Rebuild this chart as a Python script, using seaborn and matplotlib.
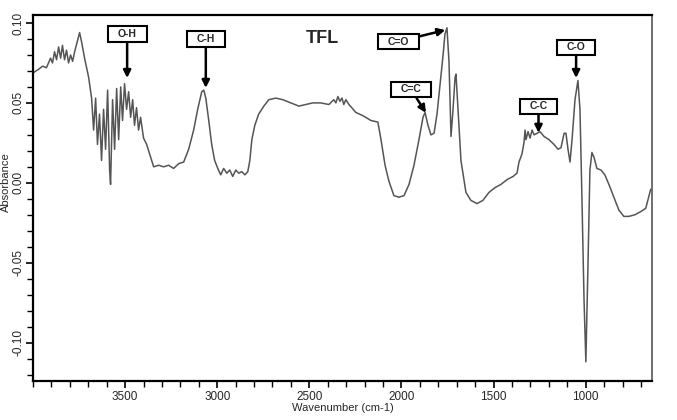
import numpy as np
import pandas as pd
import matplotlib
matplotlib.use("Agg")
import matplotlib.pyplot as plt
from matplotlib.path import Path
from matplotlib.ticker import MultipleLocator, FixedLocator, FixedFormatter
import seaborn as sns

# ---- data ----
wavenumber = [3997, 3970, 3948, 3927, 3905, 3894, 3883, 3872, 3861, 3850, 3840, 3829, 3818, 3807,
              3796, 3785, 3774, 3758, 3747, 3736, 3720, 3698, 3682, 3671, 3660, 3650, 3639, 3628,
              3617, 3606, 3595, 3584, 3579, 3568, 3557, 3546, 3535, 3524, 3514, 3503, 3492, 3481,
              3470, 3459, 3449, 3438, 3427, 3416, 3400, 3383, 3361, 3345, 3318, 3291, 3264, 3237,
              3209, 3182, 3155, 3128, 3106, 3084, 3073, 3062, 3046, 3030, 3014, 2997, 2981, 2965,
              2948, 2932, 2916, 2899, 2883, 2867, 2850, 2834, 2823, 2812, 2796, 2775, 2747, 2720,
              2682, 2644, 2600, 2557, 2519, 2481, 2438, 2394, 2367, 2356, 2345, 2334, 2323, 2313,
              2302, 2285, 2247, 2209, 2166, 2128, 2111, 2089, 2068, 2041, 2014, 1986, 1959, 1932,
              1905, 1883, 1872, 1856, 1840, 1823, 1807, 1791, 1774, 1764, 1753, 1742, 1731, 1720,
              1709, 1704, 1693, 1677, 1650, 1623, 1590, 1558, 1525, 1492, 1460, 1427, 1394, 1373,
              1362, 1346, 1335, 1329, 1324, 1313, 1302, 1291, 1280, 1264, 1248, 1226, 1199, 1172,
              1150, 1134, 1117, 1107, 1096, 1085, 1074, 1058, 1042, 1031, 1020, 1009, 999, 988,
              977, 966, 955, 939, 917, 896, 874, 847, 820, 793, 766, 733, 701, 674, 647]
absorbance = [0.069, 0.071, 0.073, 0.072, 0.078, 0.075, 0.082, 0.077, 0.085, 0.078, 0.086, 0.077,
              0.083, 0.075, 0.080, 0.076, 0.082, 0.089, 0.094, 0.088, 0.078, 0.066, 0.053, 0.033,
              0.053, 0.024, 0.043, 0.014, 0.046, 0.021, 0.058, 0.008, -0.001, 0.052, 0.021, 0.059,
              0.027, 0.060, 0.039, 0.062, 0.046, 0.057, 0.041, 0.052, 0.036, 0.047, 0.033, 0.041,
              0.028, 0.024, 0.016, 0.010, 0.011, 0.010, 0.011, 0.009, 0.012, 0.013, 0.021, 0.033,
              0.046, 0.057, 0.058, 0.053, 0.039, 0.024, 0.014, 0.009, 0.005, 0.009, 0.006, 0.008,
              0.004, 0.008, 0.006, 0.007, 0.005, 0.007, 0.014, 0.027, 0.036, 0.043, 0.048, 0.052,
              0.053, 0.052, 0.050, 0.048, 0.049, 0.050, 0.050, 0.049, 0.052, 0.050, 0.054, 0.051,
              0.053, 0.049, 0.052, 0.049, 0.044, 0.042, 0.039, 0.038, 0.027, 0.011, 0.001, -0.008,
              -0.009, -0.008, -0.001, 0.011, 0.027, 0.041, 0.044, 0.036, 0.030, 0.031, 0.043, 0.061,
              0.080, 0.093, 0.097, 0.076, 0.029, 0.046, 0.066, 0.068, 0.046, 0.014, -0.006, -0.011,
              -0.013, -0.011, -0.006, -0.003, -0.001, 0.002, 0.004, 0.006, 0.013, 0.018, 0.025,
              0.033, 0.027, 0.032, 0.028, 0.033, 0.030, 0.031, 0.032, 0.029, 0.027, 0.024, 0.021,
              0.022, 0.031, 0.031, 0.021, 0.013, 0.027, 0.052, 0.064, 0.046, -0.011, -0.073, -0.112,
              -0.054, 0.008, 0.019, 0.016, 0.009, 0.008, 0.005, -0.001, -0.009, -0.017, -0.021,
              -0.021, -0.020, -0.018, -0.016, -0.004]

x_ticks = [3500, 3000, 2500, 2000, 1500, 1000]
x_tick_labels = ["3500", "3000", "2500", "2000", "1500", "1000"]
y_ticks = [0.10, 0.05, 0.00, -0.05, -0.10]
y_tick_labels = ["0.10", "0.05", "0.00", "-0.05", "-0.10"]

# band labels: arrow tip and label box positions in data units
band_labels = ["O-H", "C-H", "C=O", "C=C", "C-C", "C-O"]
band_tip_wn = [3489, 3062, 1762, 1867, 1256, 1052]
band_tip_abs = [0.0656, 0.0594, 0.0956, 0.0438, 0.0313, 0.0656]
band_box_wn = [3489, 3062, 2017, 1948, 1256, 1052]
band_box_abs = [0.0931, 0.0900, 0.0884, 0.0584, 0.0478, 0.0847]
title_text = "TFL"

df = pd.DataFrame({"Wavenumber": wavenumber, "Absorbance": absorbance})

sns.set_style("ticks")
plt.rcParams["font.family"] = ["Liberation Sans", "DejaVu Sans"]


def wide_box(x0, y0, width, height, mutation_size):
    padx = 0.95 * mutation_size
    pady = 0.28 * mutation_size
    x0, y0 = x0 - padx, y0 - pady
    w, h = width + 2 * padx, height + 2 * pady
    return Path([(x0, y0), (x0 + w, y0), (x0 + w, y0 + h), (x0, y0 + h), (x0, y0)],
                closed=True)


fig = plt.figure(figsize=(6.77, 4.20), dpi=100)
ax = fig.add_axes([33 / 677, 1 - 381 / 420, (652 - 33) / 677, (381 - 15) / 420])

sns.lineplot(data=df, x="Wavenumber", y="Absorbance", sort=False, estimator=None,
             color="#555555", linewidth=1.1, ax=ax)

ax.set_xlim(4000, 640)
ax.set_ylim(-0.124, 0.105)

ax.xaxis.set_major_locator(FixedLocator(x_ticks))
ax.xaxis.set_major_formatter(FixedFormatter(x_tick_labels))
ax.xaxis.set_minor_locator(MultipleLocator(100))
ax.yaxis.set_major_locator(FixedLocator(y_ticks))
ax.yaxis.set_major_formatter(FixedFormatter(y_tick_labels))
ax.yaxis.set_minor_locator(MultipleLocator(0.01))

ax.tick_params(axis="both", which="major", direction="out", length=5, width=1.2,
               labelsize=8.5, color="black", pad=2)
ax.tick_params(axis="y", which="major", pad=1)
ax.tick_params(axis="both", which="minor", direction="out", length=4, width=1.0, color="black")
for lab in ax.get_yticklabels():
    lab.set_rotation(90)
    lab.set_va("center")

for side in ["left", "bottom", "top"]:
    ax.spines[side].set_linewidth(1.6)
    ax.spines[side].set_color("black")
ax.spines["right"].set_linewidth(1.2)
ax.spines["right"].set_color("#555555")

ax.set_xlabel("Wavenumber (cm-1)", fontsize=8, labelpad=0)
ax.set_ylabel("Absorbance", fontsize=8)
ax.yaxis.set_label_coords(-0.036, 0.544)

for lab, tx, ty, bx, by in zip(band_labels, band_tip_wn, band_tip_abs, band_box_wn, band_box_abs):
    ax.annotate(lab, xy=(tx, ty), xytext=(bx, by), ha="center", va="center",
                fontsize=7.5, fontweight="bold",
                bbox=dict(boxstyle=wide_box, fc="white", ec="black", lw=1.5),
                arrowprops=dict(arrowstyle="-|>", color="black", lw=1.8,
                                mutation_scale=11, shrinkA=0, shrinkB=0))

ax.text(2432, 0.0906, title_text, ha="center", va="center", fontsize=13, fontweight="bold")

fig.savefig("out.png", dpi=100)
